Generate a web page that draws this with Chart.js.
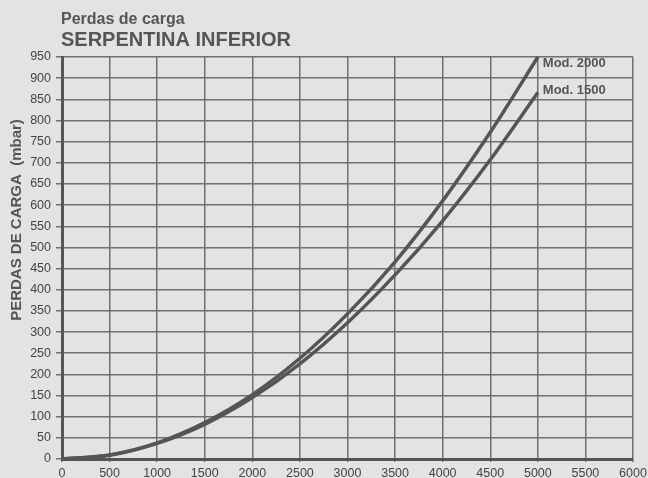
<!DOCTYPE html>
<html>
<head>
<meta charset="utf-8">
<script src="https://cdn.jsdelivr.net/npm/chart.js@4"></script>
<style>
  html, body { margin: 0; padding: 0; background: #e2e3e5; }
  #wrap { width: 648px; height: 478px; }
</style>
</head>
<body>
<div id="wrap"><canvas id="plot" width="648" height="478"></canvas></div>
<script>
// caudal (l/h) vs perda de carga (mbar)
var flow = [0, 500, 1000, 1500, 2000, 2500, 3000, 3500, 4000, 4500, 5000];
var mod2000 = [0, 9.5, 38, 86, 152, 238, 343, 466, 610, 772, 950];
var mod1500 = [0, 9, 37, 82, 145, 225, 322, 435, 563, 707, 866];
var seriesNames = ["Mod. 2000", "Mod. 1500"];
var labelOffsets = [[5, 6], [5, -2]];

var ink = "#555555";
var font = "'Liberation Sans', Arial, Helvetica, sans-serif";

function pts(ys) {
    return flow.map(function (x, i) { return { x: x, y: ys[i] }; });
}

var headings = {
    id: "headings",
    afterDraw: function (chart) {
        var ctx = chart.ctx, area = chart.chartArea;
        ctx.save();
        ctx.fillStyle = ink;
        ctx.textBaseline = "alphabetic";
        ctx.textAlign = "left";
        ctx.font = "bold 16px " + font;
        ctx.fillText("Perdas de carga", area.left - 1, 24);
        ctx.font = "bold 20px " + font;
        ctx.fillText("SERPENTINA INFERIOR", area.left - 1, 46);
        // y axis title
        ctx.save();
        ctx.translate(17, 220);
        ctx.rotate(-Math.PI / 2);
        ctx.textAlign = "center";
        ctx.textBaseline = "middle";
        ctx.font = "bold 15px " + font;
        ctx.fillText("PERDAS DE CARGA  (mbar)", 0, 0);
        ctx.restore();
        // names at the end of each curve
        ctx.font = "bold 13px " + font;
        ctx.textBaseline = "middle";
        chart.data.datasets.forEach(function (ds, i) {
            var meta = chart.getDatasetMeta(i);
            var last = meta.data[meta.data.length - 1];
            ctx.fillText(seriesNames[i], last.x + labelOffsets[i][0], last.y + labelOffsets[i][1]);
        });
        ctx.restore();
    }
};

new Chart(document.getElementById("plot"), {
    type: "line",
    data: {
        datasets: [
            {
                label: seriesNames[0],
                data: pts(mod2000),
                borderColor: ink,
                borderWidth: 3.5,
                pointRadius: 0,
                cubicInterpolationMode: "monotone",
                clip: false,
                fill: false
            },
            {
                label: seriesNames[1],
                data: pts(mod1500),
                borderColor: ink,
                borderWidth: 3.5,
                pointRadius: 0,
                cubicInterpolationMode: "monotone",
                clip: false,
                fill: false
            }
        ]
    },
    options: {
        responsive: false,
        animation: false,
        layout: { padding: { top: 57, right: 15, left: 0, bottom: 0 } },
        plugins: {
            legend: { display: false },
            title: { display: false },
            tooltip: { enabled: false }
        },
        scales: {
            x: {
                type: "linear",
                min: 0,
                max: 6000,
                ticks: {
                    stepSize: 500, color: "#444", padding: 4, maxRotation: 0,
                    font: { family: font, size: 12.5 },
                    callback: function (v) { return String(v); }
                },
                grid: { color: "#707070", lineWidth: 1.5, tickLength: 3 },
                border: { color: ink, width: 3 },
                afterFit: function (s) { s.height = 19; s.paddingRight = 0; s.paddingLeft = 0; }
            },
            y: {
                type: "linear",
                min: 0,
                max: 950,
                ticks: { stepSize: 50, color: "#444", font: { family: font, size: 12.5 }, padding: 5 },
                grid: { color: "#707070", lineWidth: 1.5, tickLength: 6 },
                border: { color: ink, width: 3 },
                afterFit: function (s) { s.width = 62; }
            }
        }
    },
    plugins: [headings]
});
</script>
</body>
</html>
